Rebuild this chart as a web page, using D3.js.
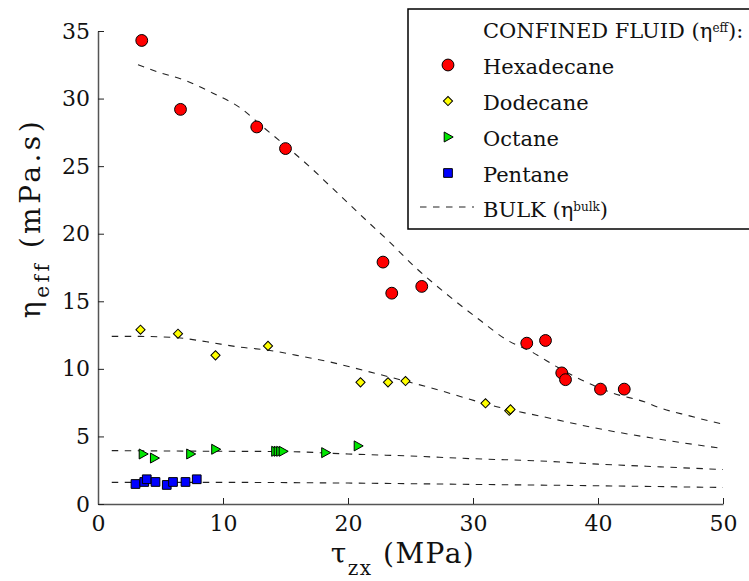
<!DOCTYPE html>
<html><head><meta charset="utf-8">
<script src="https://cdn.jsdelivr.net/npm/d3@7"></script>
<style>body{margin:0;background:#fff}svg{display:block}</style>
</head><body>
<svg id="c" width="749" height="581"></svg>
<script>
// ---- data ----
const xTicks = [0,10,20,30,40,50];
const yTicks = [0,5,10,15,20,25,30,35];

const hexX = [3.5,6.6,12.7,15.0,22.8,23.5,25.9,34.3,35.8,37.1,37.4,40.2,42.1];
const hexY = [34.3,29.2,27.9,26.3,17.9,15.6,16.1,11.9,12.1,9.7,9.2,8.5,8.5];

const dodX = [3.4,6.4,9.4,13.6,21.0,23.2,24.6,31.0,32.9,33.0];
const dodY = [12.9,12.6,11.0,11.7,9.0,9.0,9.1,7.45,6.9,7.0];

const octX = [3.6,4.5,7.4,9.4,14.2,14.4,14.6,14.8,18.2,20.8];
const octY = [3.7,3.4,3.7,4.05,3.9,3.9,3.9,3.9,3.8,4.3];

const penX = [3.0,3.7,3.9,4.6,5.5,6.0,7.0,7.9];
const penY = [1.48,1.63,1.83,1.63,1.41,1.63,1.63,1.83];

const bulkHexX = [3.2,4.7,7.1,9.2,11.4,13.2,15.4,17.0,18.6,20.2,21.8,23.2,25.4,27.8,30.7,32.6,34.8,36.8,39.1,41.2,43.9,44.7,47.4,50];
const bulkHexY = [32.5,32.0,31.3,30.4,29.3,27.9,26.2,24.9,23.5,22.1,20.7,19.5,17.5,15.6,13.5,12.2,11.2,10.1,9.0,8.2,7.5,7.2,6.5,5.9];

const bulkDodX = [1.1,3.4,6.4,8.7,11.4,13.5,15.9,18.6,21.2,26.6,31.9,35.9,39.9,44.2,50];
const bulkDodY = [12.4,12.4,12.3,12.0,11.6,11.4,11.0,10.5,9.9,8.6,7.2,6.4,5.6,4.9,4.1];

const bulkOctX = [1.1,10,15,20,25,30,35,40,45,50];
const bulkOctY = [3.95,3.9,3.88,3.7,3.55,3.35,3.2,2.95,2.75,2.55];

const bulkPenX = [1.1,10,20,30,40,50];
const bulkPenY = [1.6,1.6,1.55,1.45,1.35,1.22];

const legendLabels = ["Hexadecane","Dodecane","Octane","Pentane"];

// ---- drawing ----
const FONT = "'DejaVu Serif', serif";
const svg = d3.select("#c");
const x = d3.scaleLinear().domain([0,50]).range([98,723]);
const y = d3.scaleLinear().domain([0,35]).range([504,31]);

const zip = (a,b) => a.map((v,i)=>[v,b[i]]);

// axes
const gx = svg.append("g").attr("transform","translate(0,504)")
  .call(d3.axisBottom(x).tickValues(xTicks).tickSizeInner(-6).tickSizeOuter(0).tickPadding(11));
const gy = svg.append("g").attr("transform","translate(98,0)")
  .call(d3.axisLeft(y).tickValues(yTicks).tickSizeInner(-6).tickSizeOuter(0).tickPadding(8));
[gx,gy].forEach(g=>{
  g.select(".domain").attr("stroke","#555").attr("stroke-width",1.5);
  g.selectAll(".tick line").attr("stroke","#222");
  g.selectAll(".tick text").attr("font-family",FONT).attr("font-size",22).attr("fill","#111");
});

// bulk lines
const line = d3.line().x(d=>x(d[0])).y(d=>y(d[1])).curve(d3.curveMonotoneX);
[[bulkHexX,bulkHexY],[bulkDodX,bulkDodY],[bulkOctX,bulkOctY],[bulkPenX,bulkPenY]].forEach(([bx,by])=>{
  svg.append("path").datum(zip(bx,by)).attr("d",line)
    .attr("fill","none").attr("stroke","#222").attr("stroke-width",1.1).attr("stroke-dasharray","6.5,6.5");
});

// markers
const sym = {
  circle: d3.symbol().type(d3.symbolCircle).size(110),
  diamond: d3.symbol().type(d3.symbolSquare).size(42),
  square: d3.symbol().type(d3.symbolSquare).size(76),
};
const triPath = "M-3.8,-5L5.2,0L-3.8,5Z";
function drawMarker(g, kind, cx, cy){
  let p;
  if(kind==="hex") p = g.append("path").attr("d",sym.circle()).attr("fill","#ff0000");
  else if(kind==="dod") p = g.append("path").attr("d",sym.diamond()).attr("fill","#ffff00");
  else if(kind==="oct") p = g.append("path").attr("d",triPath).attr("fill","#00e600");
  else p = g.append("path").attr("d",sym.square()).attr("fill","#0000ff");
  const rot = kind==="dod" ? " rotate(45)" : "";
  p.attr("transform",`translate(${cx},${cy})${rot}`).attr("stroke","#000").attr("stroke-width",1);
}
const ptsG = svg.append("g");
zip(penX,penY).forEach(d=>drawMarker(ptsG,"pen",x(d[0]),y(d[1])));
zip(octX,octY).forEach(d=>drawMarker(ptsG,"oct",x(d[0]),y(d[1])));
zip(dodX,dodY).forEach(d=>drawMarker(ptsG,"dod",x(d[0]),y(d[1])));
zip(hexX,hexY).forEach(d=>drawMarker(ptsG,"hex",x(d[0]),y(d[1])));

// axis labels
const xl = svg.append("text").attr("x",403).attr("y",563).attr("text-anchor","middle")
  .attr("font-family",FONT).attr("font-size",28).attr("letter-spacing",1.5).attr("fill","#111");
xl.append("tspan").text("τ");
xl.append("tspan").attr("font-size",20).attr("dy",12).text("zx");
xl.append("tspan").attr("dy",-12).text(" (MPa)");

const yl = svg.append("text").attr("transform","translate(40,218) rotate(-90)").attr("text-anchor","middle")
  .attr("font-family",FONT).attr("font-size",28).attr("letter-spacing",3.5).attr("fill","#111");
yl.append("tspan").text("η");
yl.append("tspan").attr("font-size",20).attr("dy",9).text("eff");
yl.append("tspan").attr("dy",-9).text(" (mPa.s)");

// legend
const lg = svg.append("g");
lg.append("rect").attr("x",408).attr("y",9).attr("width",400).attr("height",220)
  .attr("fill","#fff").attr("stroke","#000").attr("stroke-width",1.5);
const lt = (yy)=>lg.append("text").attr("x",483).attr("y",yy).attr("font-family",FONT).attr("font-size",21).attr("fill","#111");
const t0 = lt(38);
t0.append("tspan").text("CONFINED FLUID (η");
t0.append("tspan").attr("font-size",12).attr("dy",-6).text("eff");
t0.append("tspan").attr("dy",6).text("):");
const kinds = ["hex","dod","oct","pen"];
legendLabels.forEach((lab,i)=>{
  const yy = 65 + i*36;
  drawMarker(lg,kinds[i],448,yy);
  lt(yy+9).text(lab);
});
lg.append("line").attr("x1",420).attr("x2",474).attr("y1",207).attr("y2",207)
  .attr("stroke","#222").attr("stroke-width",1.1).attr("stroke-dasharray","6.5,6.5");
const t5 = lt(217);
t5.append("tspan").text("BULK (η");
t5.append("tspan").attr("font-size",12).attr("dy",-6).text("bulk");
t5.append("tspan").attr("dy",6).text(")");
</script>
</body></html>
